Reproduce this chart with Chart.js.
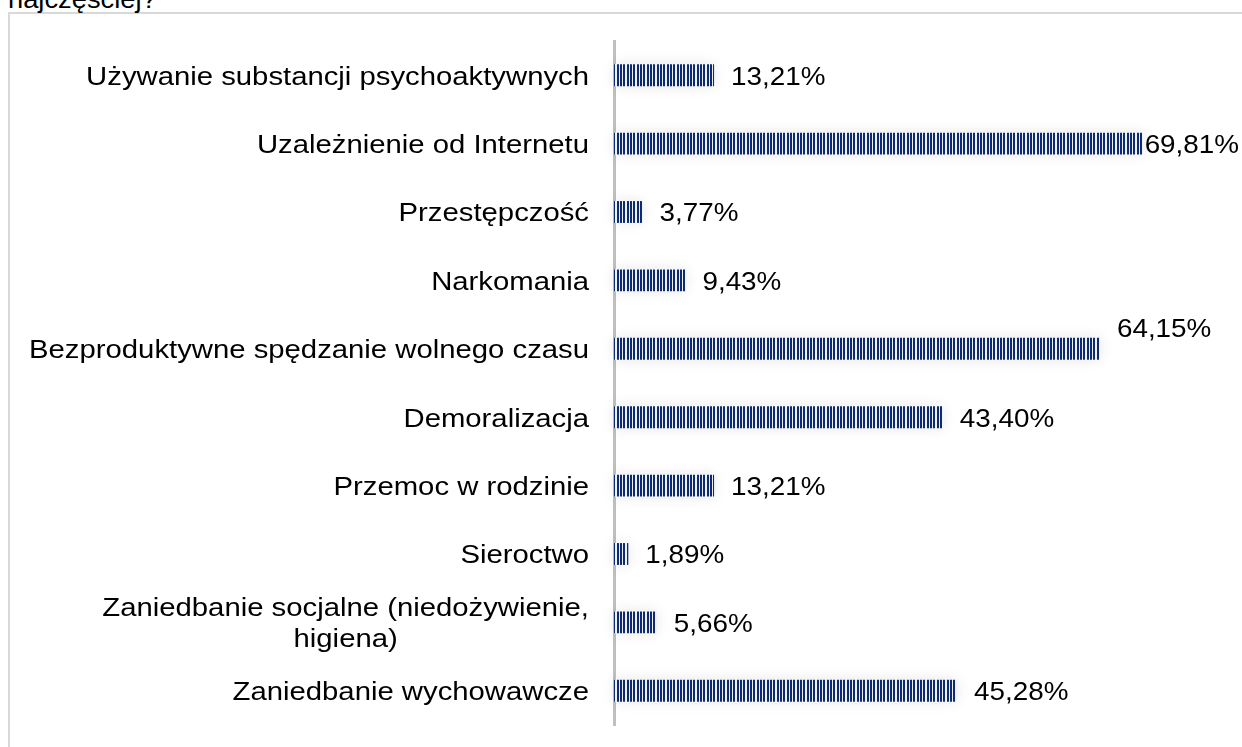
<!DOCTYPE html>
<html>
<head>
<meta charset="utf-8">
<script src="https://cdn.jsdelivr.net/npm/chart.js@4.4.1/dist/chart.umd.min.js"></script>
<style>
  html, body { margin:0; padding:0; background:#fff; overflow:hidden; }
  #wrap { position:relative; width:1242px; height:747px; overflow:hidden; }
  #frame { position:absolute; left:8px; top:12px; width:1400px; height:900px; border:2px solid #d9d9d9; box-sizing:border-box; }
  #title { position:absolute; left:8px; top:-14px; font-family:'Liberation Sans', Arial, sans-serif; font-size:26px; line-height:26px; color:#000; white-space:nowrap; transform-origin:0 0; transform:scaleX(1.05); }
  #c { position:absolute; left:0; top:0; }
</style>
</head>
<body>
<div id="wrap">
  <div id="frame"></div>
  <div id="title">najczęściej?</div>
  <canvas id="c" width="1242" height="747"></canvas>
</div>
<script>
const categories = [
  'Używanie substancji psychoaktywnych',
  'Uzależnienie od Internetu',
  'Przestępczość',
  'Narkomania',
  'Bezproduktywne spędzanie wolnego czasu',
  'Demoralizacja',
  'Przemoc w rodzinie',
  'Sieroctwo',
  ['Zaniedbanie socjalne (niedożywienie,', 'higiena)'],
  'Zaniedbanie wychowawcze'
];
const values = [13.21, 69.81, 3.77, 9.43, 64.15, 43.40, 13.21, 1.89, 5.66, 45.28];

const FONT = "'Liberation Sans', Arial, sans-serif";
const FONT_SIZE = 26.5;

function fmt(v) { return v.toFixed(2).replace('.', ',') + '%'; }

// vertical stripe pattern (3 stripes per 10px)
const pc = document.createElement('canvas');
pc.width = 10; pc.height = 4;
const pctx = pc.getContext('2d');
pctx.fillStyle = '#eef1f7'; pctx.fillRect(0, 0, 10, 4);
pctx.fillStyle = '#0d2b6c';
pctx.fillRect(0, 0, 2, 4);
pctx.fillRect(3, 0, 2, 4);
pctx.fillRect(7, 0, 2, 4);
const ctxMain = document.getElementById('c').getContext('2d');
const stripes = ctxMain.createPattern(pc, 'repeat');

const glowPlugin = {
  id: 'glow',
  beforeDatasetsDraw(chart) {
    const ctx = chart.ctx;
    const meta = chart.getDatasetMeta(0);
    ctx.save();
    ctx.fillStyle = '#ffffff';
    ctx.shadowColor = 'rgba(0,0,0,0.10)';
    ctx.shadowBlur = 14;
    meta.data.forEach(bar => {
      const p = bar.getProps(['x', 'y', 'base', 'height'], true);
      ctx.fillRect(p.base, p.y - p.height / 2, p.x - p.base, p.height);
    });
    ctx.restore();
  }
};

function drawStretched(ctx, txt, x, y, sx, align) {
  ctx.save();
  ctx.translate(x, y);
  ctx.scale(sx, 1);
  ctx.textAlign = align;
  ctx.fillText(txt, 0, 0);
  ctx.restore();
}

const labelPlugin = {
  id: 'customLabels',
  afterDraw(chart, args, opts) {
    const ctx = chart.ctx;
    const yScale = chart.scales.y;
    const meta = chart.getDatasetMeta(0);
    ctx.save();
    ctx.font = FONT_SIZE + 'px ' + FONT;
    ctx.fillStyle = '#000';
    ctx.textBaseline = 'middle';
    const rightX = chart.chartArea.left - opts.catGap;
    categories.forEach((cat, i) => {
      const yc = yScale.getPixelForValue(i) + opts.textShift;
      const lines = Array.isArray(cat) ? cat : [cat];
      const widths = lines.map(l => ctx.measureText(l).width * opts.catStretch);
      const maxW = Math.max(...widths);
      const lh = opts.lineHeight;
      const y0 = yc - (lines.length - 1) * lh / 2;
      lines.forEach((l, k) => {
        drawStretched(ctx, l, rightX - maxW / 2, y0 + k * lh, opts.catStretch, 'center');
      });
    });
    meta.data.forEach((bar, i) => {
      const p = bar.getProps(['x', 'y'], true);
      const txt = fmt(values[i]);
      const w = ctx.measureText(txt).width * opts.valStretch;
      let x = p.x + opts.valGap;
      if (x + w > chart.width - opts.edge) x = chart.width - opts.edge - w;
      const dy = (opts.offsets[i] || 0) + opts.textShift;
      drawStretched(ctx, txt, x, p.y + dy, opts.valStretch, 'left');
    });
    ctx.restore();
  }
};

new Chart(document.getElementById('c'), {
  type: 'bar',
  data: {
    labels: categories,
    datasets: [{
      data: values,
      backgroundColor: stripes,
      borderWidth: 0,
      barPercentage: 0.64,
      categoryPercentage: 0.5
    }]
  },
  options: {
    indexAxis: 'y',
    responsive: false,
    animation: false,
    layout: { padding: { top: 41, bottom: 22, right: 22, left: 0 } },
    plugins: {
      legend: { display: false },
      tooltip: { enabled: false },
      customLabels: { catGap: 25, valGap: 17, edge: 3, lineHeight: 31, textShift: 2, catStretch: 1.105, valStretch: 1.05, offsets: { 4: -21 } }
    },
    scales: {
      x: { display: false, min: 0, max: 80 },
      y: {
        afterFit(s) { s.width = 614; },
        ticks: { display: false },
        grid: { display: false, drawTicks: false },
        border: { display: true, color: '#bfbfbf', width: 3 }
      }
    }
  },
  plugins: [glowPlugin, labelPlugin]
});
</script>
</body>
</html>
